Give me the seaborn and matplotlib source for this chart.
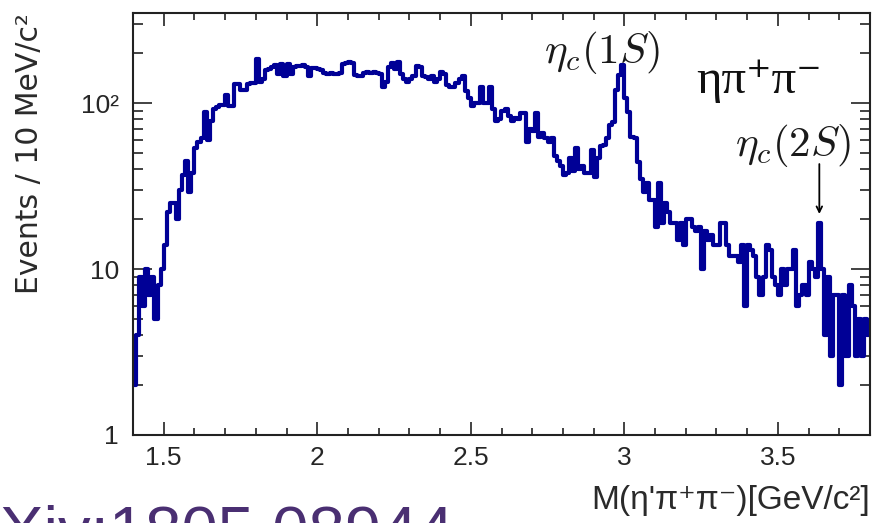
import numpy as np
import pandas as pd
import matplotlib
matplotlib.use("Agg")
import matplotlib.pyplot as plt
import seaborn as sns
from matplotlib.ticker import MultipleLocator, FixedLocator, FuncFormatter, LogLocator, NullFormatter

# ---- data: events per 10 MeV/c^2 bin, starting at 1.40 GeV/c^2 ----
mass_low = 1.40
mass_high = 3.80
bin_width = 0.01
counts = [
    # 1.40 - 1.49
    2, 4, 9, 6, 10, 7, 9, 5, 8, 10,
    # 1.50 - 1.59
    14, 22, 25, 25, 20, 30, 37, 45, 29, 38,
    # 1.60 - 1.69
    54, 58, 62, 88, 60, 78, 92, 95, 97, 98,
    # 1.70 - 1.79
    112, 96, 96, 130, 130, 120, 120, 130, 132, 132,
    # 1.80 - 1.89
    185, 135, 140, 158, 160, 165, 170, 150, 172, 145,
    # 1.90 - 1.99
    172, 150, 165, 168, 168, 170, 165, 145, 162, 162,
    # 2.00 - 2.09
    160, 158, 152, 150, 152, 150, 150, 152, 172, 175,
    # 2.10 - 2.19
    178, 175, 148, 145, 146, 152, 155, 153, 155, 152,
    # 2.20 - 2.29
    150, 125, 135, 165, 175, 160, 178, 150, 140, 135,
    # 2.30 - 2.39
    140, 145, 168, 165, 145, 143, 140, 145, 135, 140,
    # 2.40 - 2.49
    155, 150, 128, 125, 125, 133, 140, 145, 118, 108,
    # 2.50 - 2.59
    96, 100, 100, 125, 100, 100, 125, 92, 78, 80,
    # 2.60 - 2.69
    90, 92, 84, 78, 82, 80, 87, 87, 58, 70,
    # 2.70 - 2.79
    68, 87, 63, 66, 62, 58, 62, 48, 45, 42,
    # 2.80 - 2.89
    37, 38, 47, 39, 54, 40, 42, 38, 38, 52,
    # 2.90 - 2.99
    36, 47, 55, 56, 62, 74, 77, 120, 147, 170,
    # 3.00 - 3.09
    108, 88, 63, 62, 44, 35, 29, 33, 26, 26,
    # 3.10 - 3.19
    18, 33, 19, 25, 22, 19, 19, 15, 19, 14,
    # 3.20 - 3.29
    20, 20, 18, 17, 18, 10, 17, 15, 16, 14,
    # 3.30 - 3.39
    14, 19, 19, 14, 12, 12, 12, 11, 14, 6,
    # 3.40 - 3.49
    14, 13, 12, 9, 7, 9, 14, 13, 9, 8,
    # 3.50 - 3.59
    7, 10, 8, 10, 10, 13, 6, 7, 8, 7,
    # 3.60 - 3.69
    11, 10, 9, 19, 10, 4, 9, 3, 7, 7,
    # 3.70 - 3.79
    2, 7, 3, 8, 6, 3, 5, 3, 5, 4,
]
x_ticks = [1.5, 2.0, 2.5, 3.0, 3.5]
y_ticks = [1, 10, 100]
y_tick_labels = ["1", "10", "10²"]

centers = mass_low + bin_width * (np.arange(len(counts)) + 0.5)
df = pd.DataFrame({"mass": centers, "events": counts})

sns.set_style("ticks")
plt.rcParams["font.family"] = ["Liberation Sans", "DejaVu Sans"]

fig = plt.figure(figsize=(8.76, 5.23), dpi=100)
ax = fig.add_axes([133 / 876, 88 / 523, 737 / 876, 422 / 523])

sns.histplot(data=df, x="mass", weights="events", bins=len(counts),
             binrange=(mass_low, mass_high), element="step",
             fill=False, color="#000096", linewidth=3.0, ax=ax)

ax.set_yscale("log")
ax.set_xlim(mass_low, mass_high)
ax.set_ylim(1, 350)
ax.set_xlabel("")
ax.set_ylabel("")

ax.xaxis.set_major_locator(FixedLocator(x_ticks))
ax.xaxis.set_minor_locator(MultipleLocator(0.1))
ax.xaxis.set_major_formatter(FuncFormatter(lambda v, p: f"{v:g}"))
ax.yaxis.set_major_locator(FixedLocator(y_ticks))
ax.yaxis.set_major_formatter(FuncFormatter(
    lambda v, p: y_tick_labels[y_ticks.index(round(v))] if round(v) in y_ticks else ""))
ax.yaxis.set_minor_locator(LogLocator(base=10, subs=np.arange(2, 10)))
ax.yaxis.set_minor_formatter(NullFormatter())

ax.tick_params(which="both", direction="in", top=True, right=True, color="#222222")
ax.tick_params(axis="x", which="major", length=9.5, width=1.2, labelsize=19, pad=8)
ax.tick_params(axis="x", which="minor", length=5, width=1.2)
ax.tick_params(axis="y", which="major", length=14, width=1.2, labelsize=19, pad=10)
ax.tick_params(axis="y", which="minor", length=7, width=1.2)
for s in ax.spines.values():
    s.set_linewidth(1.5)
    s.set_color("#222222")
    s.set_visible(True)

# annotations
ax.text(2.929, 203, r"$\eta_c(1S)$", ha="center", va="center", fontsize=31,
        math_fontfamily="cm", color="#1a1a1a")
ax.text(3.549, 56, r"$\eta_c(2S)$", ha="center", va="center", fontsize=31,
        math_fontfamily="cm", color="#1a1a1a")
ax.text(3.44, 137, "ηπ⁺π⁻", ha="center", va="center", fontsize=35,
        family=["Liberation Serif", "DejaVu Serif"], color="#111111")
ax.annotate("", xy=(3.635, 21.5), xytext=(3.635, 43),
            arrowprops=dict(arrowstyle="->", color="black", lw=1.3,
                            shrinkA=0, shrinkB=0))

fig.text(30 / 876, 1 - 13 / 523, "Events / 10 MeV/c²", rotation=90,
         ha="center", va="top", fontsize=21.5, family=["DejaVu Sans"],
         color="#2a2a2a")
fig.text(870 / 876, (523 - 500) / 523, "M(η'π⁺π⁻)[GeV/c²]", ha="right",
         va="center", fontsize=24, family=["Liberation Sans", "DejaVu Sans"],
         color="#2a2a2a")
fig.text(-58 / 876, (523 - 552) / 523, "arXiv:1805.08944", ha="left",
         va="baseline", fontsize=47, color="#4a2f72")

fig.savefig("out.png", dpi=100)
